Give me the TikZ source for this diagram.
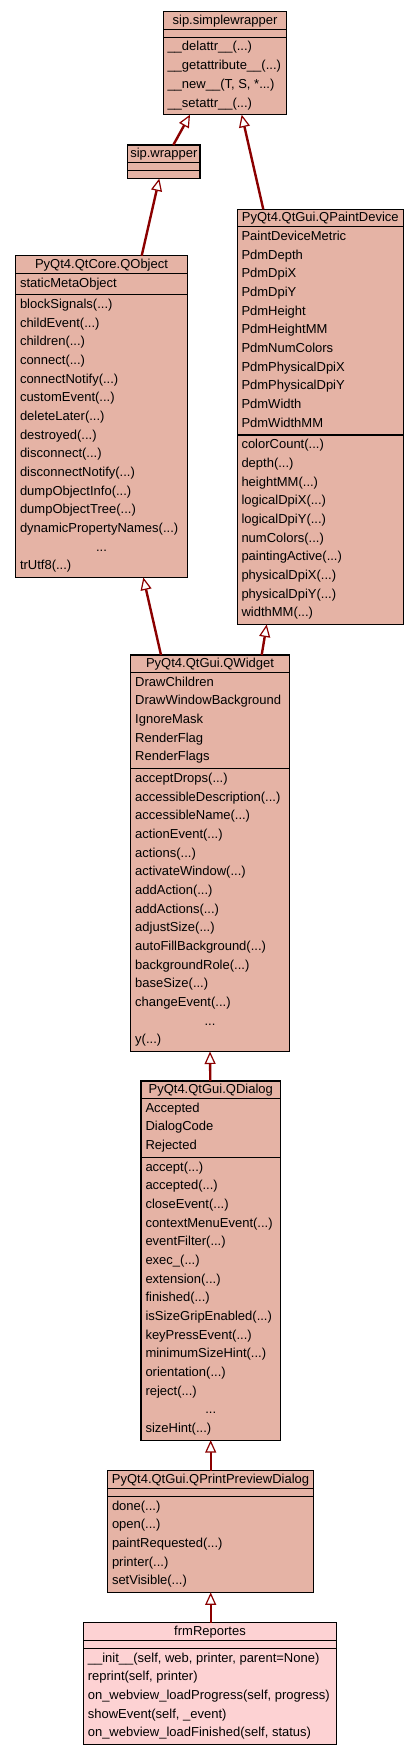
\documentclass[tikz,border=0pt]{standalone}
\usepackage{fontspec}
\setmainfont{Liberation Sans}
\usetikzlibrary{arrows.meta}
\definecolor{clsfill}{HTML}{E5B3A5}
\definecolor{curfill}{HTML}{FDD2D3}
\definecolor{inhcol}{HTML}{8B0000}
\tikzset{
 cls/.style={draw=black, line width=1.2pt, fill=clsfill, rectangle, inner sep=0pt, outer sep=0pt, anchor=north west},
 sepline/.style={draw=black, line width=1.2pt},
 row/.style={anchor=base west, inner sep=0pt, outer sep=0pt, font=\fontsize{13}{15}\selectfont},
 ttl/.style={anchor=base, inner sep=0pt, outer sep=0pt, font=\fontsize{13}{15}\selectfont},
 inh/.style={draw=inhcol, line width=2.4pt, -{Triangle[open, fill=white, length=12.5pt, width=11pt, line width=1.2pt]}},
}
\newcommand\dd{...}
\newcommand\mkrows[4]{\foreach \t [count=\i from 0] in {#4} {\node[row] (#1\i) at (#2,#3+\i*18.67) {\t};}}
\begin{document}
\begin{tikzpicture}[x=1pt,y=-1pt]
\fill[white] (0,0) rectangle (419,1755);
\useasboundingbox (0,0) rectangle (419,1755);

% sip.simplewrapper
\node[cls, minimum width=123.4pt, minimum height=103pt] (sw) at (163.3,11.7) {};
\draw[sepline] (163.3,29.2) -- (286.7,29.2);
\draw[sepline] (163.3,37.2) -- (286.7,37.2);
\node[ttl] (sw-t) at (225,24.2) {sip.simplewrapper};
\mkrows{sw-m}{167.5}{51}{{\_\_delattr\_\_(\dd)},{\_\_getattribute\_\_(\dd)},{\_\_new\_\_(T, S, *\dd)},{\_\_setattr\_\_(\dd)}}

% sip.wrapper
\node[cls, minimum width=72.3pt, minimum height=33.5pt] (wr) at (127.7,145) {};
\draw[sepline] (127.7,162.5) -- (200,162.5);
\draw[sepline] (127.7,170.5) -- (200,170.5);
\node[ttl] (wr-t) at (163.85,157.5) {sip.wrapper};

% PyQt4.QtCore.QObject
\node[cls, minimum width=171.6pt, minimum height=321.8pt] (qo) at (15.7,255.7) {};
\draw[sepline] (15.7,273.2) -- (187.3,273.2);
\draw[sepline] (15.7,294.7) -- (187.3,294.7);
\node[ttl] (qo-t) at (101.5,268.2) {PyQt4.QtCore.QObject};
\mkrows{qo-a}{20}{287}{staticMetaObject}
\mkrows{qo-m}{20}{308.5}{blockSignals(\dd),childEvent(\dd),children(\dd),connect(\dd),connectNotify(\dd),customEvent(\dd),deleteLater(\dd),destroyed(\dd),disconnect(\dd),disconnectNotify(\dd),dumpObjectInfo(\dd),dumpObjectTree(\dd),dynamicPropertyNames(\dd)}
\node[ttl] (qo-dots) at (101.5,308.5+13*18.67) {\dd};
\node[row] (qo-last) at (20,308.5+14*18.67) {trUtf8(\dd)};

% PyQt4.QtGui.QPaintDevice
\node[cls, minimum width=166pt, minimum height=415.2pt] (qpd) at (237.3,209.3) {};
\draw[sepline] (237.3,226.8) -- (403.3,226.8);
\draw[sepline] (237.3,435) -- (403.3,435);
\node[ttl] (qpd-t) at (320.3,221.5) {PyQt4.QtGui.QPaintDevice};
\mkrows{qpd-a}{241.5}{240.6}{PaintDeviceMetric,PdmDepth,PdmDpiX,PdmDpiY,PdmHeight,PdmHeightMM,PdmNumColors,PdmPhysicalDpiX,PdmPhysicalDpiY,PdmWidth,PdmWidthMM}
\mkrows{qpd-m}{241.5}{448.8}{colorCount(\dd),depth(\dd),heightMM(\dd),logicalDpiX(\dd),logicalDpiY(\dd),numColors(\dd),paintingActive(\dd),physicalDpiX(\dd),physicalDpiY(\dd),widthMM(\dd)}

% PyQt4.QtGui.QWidget
\node[cls, minimum width=158.6pt, minimum height=396.5pt] (qw) at (130.7,655) {};
\draw[sepline] (130.7,672.5) -- (289.3,672.5);
\draw[sepline] (130.7,768.7) -- (289.3,768.7);
\node[ttl] (qw-t) at (210,667.3) {PyQt4.QtGui.QWidget};
\mkrows{qw-a}{135.2}{686.3}{DrawChildren,DrawWindowBackground,IgnoreMask,RenderFlag,RenderFlags}
\mkrows{qw-m}{135.2}{782.5}{acceptDrops(\dd),accessibleDescription(\dd),accessibleName(\dd),actionEvent(\dd),actions(\dd),activateWindow(\dd),addAction(\dd),addActions(\dd),adjustSize(\dd),autoFillBackground(\dd),backgroundRole(\dd),baseSize(\dd),changeEvent(\dd)}
\node[ttl] (qw-dots) at (210,782.5+13*18.67) {\dd};
\node[row] (qw-last) at (135.2,782.5+14*18.67) {y(\dd)};

% PyQt4.QtGui.QDialog
\node[cls, minimum width=139.5pt, minimum height=359.1pt] (qd) at (141,1081) {};
\draw[sepline] (141,1098.5) -- (280.5,1098.5);
\draw[sepline] (141,1157.3) -- (280.5,1157.3);
\node[ttl] (qd-t) at (210.75,1093.5) {PyQt4.QtGui.QDialog};
\mkrows{qd-a}{145.5}{1112.3}{Accepted,DialogCode,Rejected}
\mkrows{qd-m}{145.5}{1171.1}{accept(\dd),accepted(\dd),closeEvent(\dd),contextMenuEvent(\dd),eventFilter(\dd),exec\_(\dd),extension(\dd),finished(\dd),isSizeGripEnabled(\dd),keyPressEvent(\dd),minimumSizeHint(\dd),orientation(\dd),reject(\dd)}
\node[ttl] (qd-dots) at (210.75,1171.1+13*18.67) {\dd};
\node[row] (qd-last) at (145.5,1171.1+14*18.67) {sizeHint(\dd)};

% PyQt4.QtGui.QPrintPreviewDialog
\node[cls, minimum width=205.6pt, minimum height=121.7pt] (qpp) at (107.7,1470.7) {};
\draw[sepline] (107.7,1488.2) -- (313.3,1488.2);
\draw[sepline] (107.7,1496.2) -- (313.3,1496.2);
\node[ttl] (qpp-t) at (210.5,1483.2) {PyQt4.QtGui.QPrintPreviewDialog};
\mkrows{qpp-m}{112}{1510.2}{done(\dd),open(\dd),paintRequested(\dd),printer(\dd),setVisible(\dd)}

% frmReportes
\node[cls, fill=curfill, minimum width=253.4pt, minimum height=121.7pt] (frm) at (83.3,1622.7) {};
\draw[sepline] (83.3,1640.2) -- (336.7,1640.2);
\draw[sepline] (83.3,1648.2) -- (336.7,1648.2);
\node[ttl] (frm-t) at (210,1635.2) {frmReportes};
\mkrows{frm-m}{87.8}{1662}{{\_\_init\_\_(self, web, printer, parent=None)},{reprint(self, printer)},{on\_webview\_loadProgress(self, progress)},{showEvent(self, \_event)},{on\_webview\_loadFinished(self, status)}}

% inheritance
\draw[inh] ([xshift=45.6pt]wr.north west) -- ([xshift=26.7pt]sw.south west);
\draw[inh] ([xshift=26pt]qpd.north west) -- ([xshift=78.4pt]sw.south west);
\draw[inh] ([xshift=126pt]qo.north west) -- ([xshift=31.6pt]wr.south west);
\draw[inh] ([xshift=30.3pt]qw.north west) -- ([xshift=127.6pt]qo.south west);
\draw[inh] ([xshift=131pt]qw.north west) -- ([xshift=29.4pt]qpd.south west);
\draw[inh] ([xshift=69.3pt]qd.north west) -- ([xshift=79.3pt]qw.south west);
\draw[inh] ([xshift=103pt]qpp.north west) -- ([xshift=69.7pt]qd.south west);
\draw[inh] ([xshift=127.4pt]frm.north west) -- ([xshift=103pt]qpp.south west);
\end{tikzpicture}
\end{document}
